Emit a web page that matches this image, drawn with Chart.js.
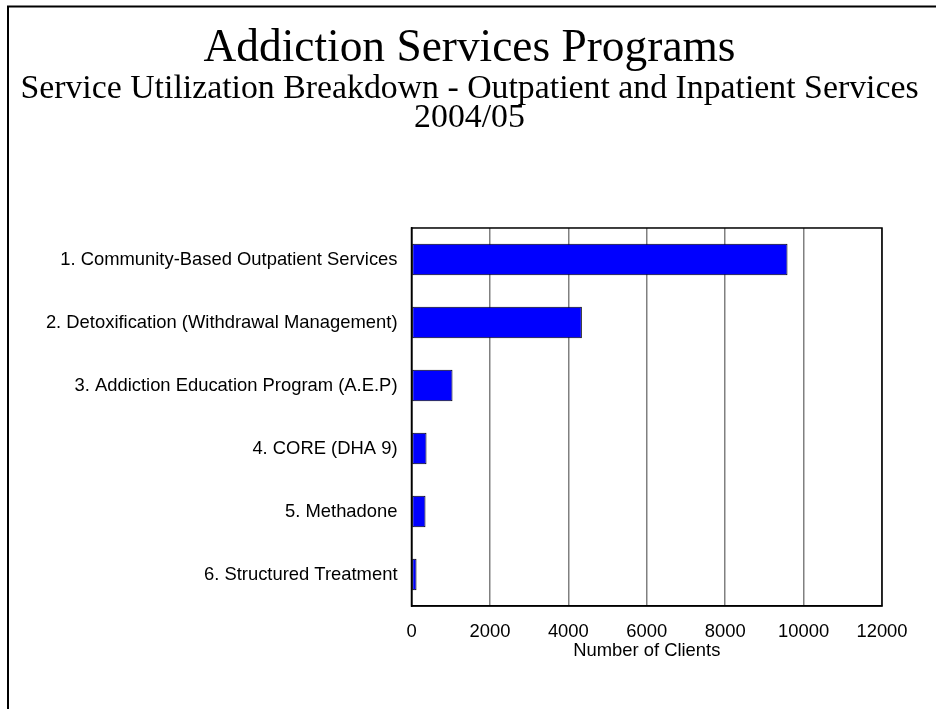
<!DOCTYPE html>
<html>
<head>
<meta charset="utf-8">
<script src="https://cdn.jsdelivr.net/npm/chart.js@4/dist/chart.umd.min.js"></script>
<style>
  html, body { margin: 0; padding: 0; background: #fff; }
  #wrap { width: 936px; height: 709px; position: relative; }
</style>
</head>
<body>
<div id="wrap"><canvas id="c" width="936" height="709"></canvas></div>
<script>
const chartTitle = "Addiction Services Programs";
const chartSubtitle = ["Service Utilization Breakdown - Outpatient and Inpatient Services", "2004/05"];
const categories = [
  "1. Community-Based Outpatient Services",
  "2. Detoxification (Withdrawal Management)",
  "3. Addiction Education Program (A.E.P)",
  "4. CORE (DHA 9)",
  "5. Methadone",
  "6. Structured Treatment"
];
const clients = [9590, 4345, 1046, 383, 357, 128];
const xAxisTitle = "Number of Clients";
const xMin = 0, xMax = 12000, xStep = 2000;

const framePlugin = {
  id: 'frame',
  beforeDraw(chart) {
    const ctx = chart.ctx;
    ctx.save();
    ctx.fillStyle = '#fff';
    ctx.fillRect(0, 0, chart.width, chart.height);
    ctx.restore();
  },
  afterDraw(chart) {
    const ctx = chart.ctx;
    const a = chart.chartArea;
    ctx.save();
    ctx.strokeStyle = '#000';
    ctx.lineWidth = 1.5;
    ctx.strokeRect(a.left, a.top, a.right - a.left, a.bottom - a.top);
    ctx.lineWidth = 2;
    ctx.beginPath();
    ctx.moveTo(8, chart.height);
    ctx.lineTo(8, 6.5);
    ctx.lineTo(chart.width, 6.5);
    ctx.stroke();
    ctx.restore();
  }
};

const sansFont = '"Liberation Sans", Arial, sans-serif';
const serifFont = '"Liberation Serif", "Times New Roman", serif';

new Chart(document.getElementById('c'), {
  type: 'bar',
  data: {
    labels: categories,
    datasets: [{
      data: clients,
      backgroundColor: '#0000FF',
      borderColor: '#000000',
      borderWidth: 1,
      borderSkipped: false,
      barPercentage: 0.5,
      categoryPercentage: 1.0
    }]
  },
  options: {
    indexAxis: 'y',
    responsive: false,
    animation: false,
    devicePixelRatio: 1,
    layout: { padding: { top: 0, right: 0, bottom: 49, left: 3 } },
    plugins: {
      legend: { display: false },
      tooltip: { enabled: false },
      title: {
        display: true,
        text: chartTitle,
        color: '#000',
        font: { family: serifFont, size: 45.4, weight: 'normal', lineHeight: 1.123 },
        padding: { top: 23.5, bottom: 0 }
      },
      subtitle: {
        display: true,
        text: chartSubtitle,
        color: '#000',
        font: { family: serifFont, size: 33.8, weight: 'normal', lineHeight: 0.858 },
        padding: { top: 0, bottom: 95.5 }
      }
    },
    scales: {
      x: {
        type: 'linear',
        min: xMin,
        max: xMax,
        grid: { color: '#808080', lineWidth: 1.5, drawTicks: false },
        border: { display: true, color: '#000', width: 1.5 },
        ticks: {
          stepSize: xStep,
          padding: 15,
          color: '#000',
          maxRotation: 0,
          font: { family: sansFont, size: 18.4, lineHeight: 1.2 },
          callback: v => String(v)
        },
        title: {
          display: true,
          text: xAxisTitle,
          color: '#000',
          padding: { top: 0, bottom: 0 },
          font: { family: sansFont, size: 18.4, lineHeight: 1.0 }
        },
        afterFit(scale) { scale.height = 54; }
      },
      y: {
        grid: { display: false, drawTicks: false },
        border: { display: true, color: '#000', width: 1.5 },
        ticks: {
          padding: 14,
          color: '#000',
          font: { family: sansFont, size: 18.4 }
        },
        afterFit(scale) { scale.width = 408.5; }
      },
      rightSpace: {
        type: 'linear',
        position: 'right',
        display: true,
        grid: { display: false, drawTicks: false },
        border: { display: false },
        ticks: { display: false },
        afterFit(scale) { scale.width = 54; }
      }
    }
  },
  plugins: [framePlugin]
});
</script>
</body>
</html>
